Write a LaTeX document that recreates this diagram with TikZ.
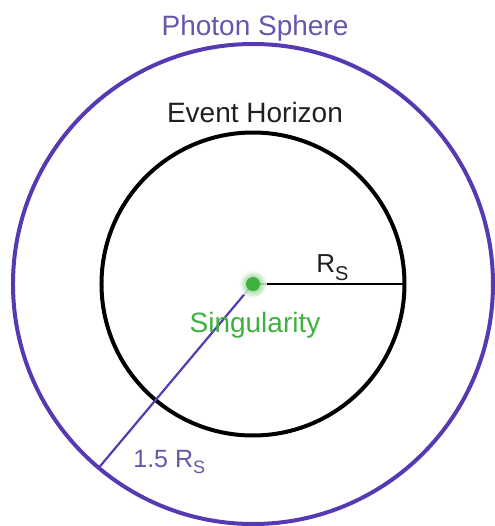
\documentclass[tikz,border=0pt]{standalone}
\usepackage{fontspec}
\setmainfont{Liberation Sans}
\usetikzlibrary{positioning}
\definecolor{ljubicasta}{RGB}{86,58,180}
\definecolor{ljubtekst}{RGB}{104,86,172}
\definecolor{zelena}{RGB}{62,178,62}
\tikzset{
  krug/.style={circle,draw,line width=2pt,inner sep=0pt,outer sep=0pt},
  natpis/.style={anchor=base,inner sep=0pt,font=\fontsize{14}{16}\selectfont},
  poluprecnik/.style={line width=1.1pt},
}
\newcommand{\rsmal}[2]{R\raisebox{-#2}{\fontsize{#1}{#1}\selectfont S}}

\begin{document}
\begin{tikzpicture}[x=0.5pt,y=0.5pt]

  \useasboundingbox (-253,-242) rectangle (241,284);

  % ---------- KRUGOVI ----------
  \coordinate (centar) at (0,0);
  \node[krug,draw=ljubicasta,minimum size=240pt] (sfera) at (centar) {};
  \node[krug,draw=black,minimum size=151.5pt] (horizont) at (centar) {};

  % ---------- POLUPRECNICI ----------
  \draw[poluprecnik] (centar) -- (horizont.east);
  \draw[poluprecnik,ljubicasta] (centar) -- (sfera.230.8);

  % ---------- SINGULARITET ----------
  \shade[inner color=zelena,outer color=white,opacity=0.85] (centar) circle (14);
  \node[circle,fill=zelena,minimum size=7pt,inner sep=0pt] (sing) at (centar) {};

  % ---------- NATPISI ----------
  \node[natpis,text=ljubtekst] (natpisSfera) at (2,249) {Photon Sphere};
  \node[natpis,text=black!88] (natpisHorizont) at (2,162) {Event Horizon};
  \node[natpis,text=zelena] (natpisSing) at (2,-48) {Singularity};
  \node[natpis,anchor=base west,text=black!88,font=\fontsize{13}{15}\selectfont]
       (rs) at (63,12) {\rsmal{10pt}{4pt}};
  \node[natpis,anchor=base west,text=ljubtekst,font=\fontsize{12.5}{14}\selectfont]
       (rsVeci) at (-120,-183) {1.5 \rsmal{9pt}{3pt}};

\end{tikzpicture}
\end{document}
